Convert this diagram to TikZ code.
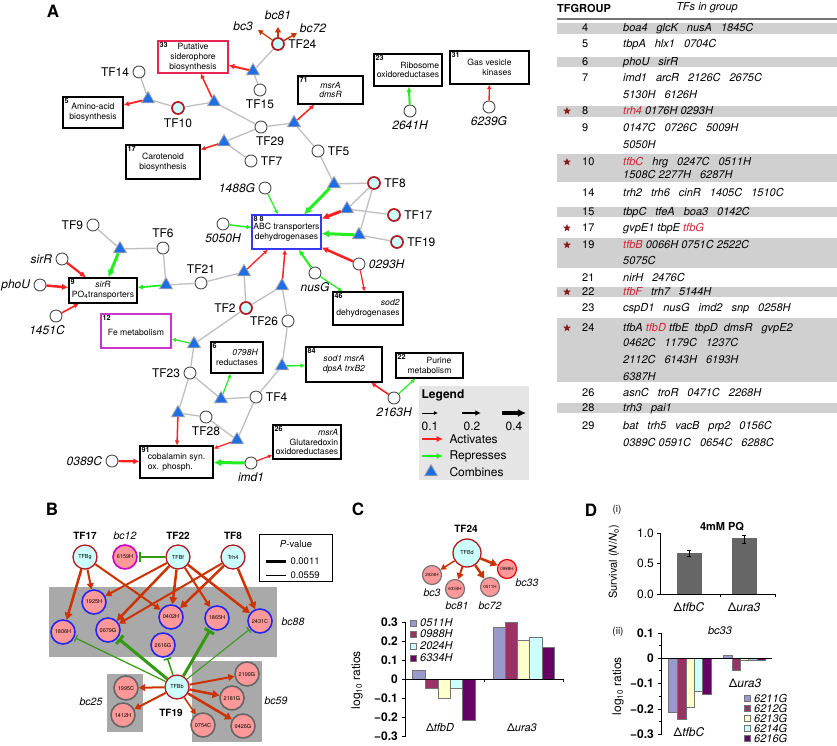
\documentclass[tikz,border=0pt]{standalone}
\usepackage{fontspec}
\setmainfont{TeX Gyre Heros}
\usetikzlibrary{shapes.geometric,arrows.meta}

\definecolor{actred}{HTML}{FF2020}
\definecolor{repgreen}{HTML}{22EE22}
\definecolor{combblue}{HTML}{1E6FE6}
\definecolor{ringred}{HTML}{B3191E}
\definecolor{tfcyan}{HTML}{CCFFFF}
\definecolor{sidero}{HTML}{E8264F}
\definecolor{femag}{HTML}{CC33CC}
\definecolor{abcblue}{HTML}{3838F0}
\definecolor{edgeor}{HTML}{CC3300}
\definecolor{inhgreen}{HTML}{339911}
\definecolor{genepink}{HTML}{FF9999}
\definecolor{geneblue}{HTML}{2626F2}
\definecolor{bcmag}{HTML}{CC00CC}
\definecolor{bcgray}{HTML}{A9A9A9}
\definecolor{leggray}{HTML}{E5E5E5}
\definecolor{bandgray}{HTML}{D0D0D0}
\definecolor{starred}{HTML}{8C1C1C}
\definecolor{tfbred}{HTML}{CC2233}
\definecolor{barlav}{HTML}{9999CC}
\definecolor{barmar}{HTML}{993366}
\definecolor{baryel}{HTML}{FFFFCC}
\definecolor{barcya}{HTML}{CCFFFF}
\definecolor{barpur}{HTML}{660066}
\definecolor{survgray}{HTML}{666666}

\newcommand{\fsz}[1]{\fontsize{#1}{#1}\selectfont}
\newcommand{\gp}{\hspace{9pt}}

\tikzset{
  tf/.style={circle, draw=black!70, fill=white, line width=0.9pt, minimum size=12pt, inner sep=0pt},
  tfr/.style={tf, draw=ringred, fill=tfcyan, line width=1.7pt},
  comb/.style={regular polygon, regular polygon sides=3, draw=black!35, fill=combblue, line width=0.8pt, minimum size=15pt, inner sep=0pt},
  modbox/.style={draw, line width=1.2pt, fill=white, inner sep=1pt, align=center, font=\fontsize{8.6}{9.8}\selectfont},
  num/.style={anchor=north west, inner sep=2pt, font=\fsz{7.2}\bfseries},
  link/.style={draw=black!25, line width=1.3pt},
  act/.style={draw=actred, line width=#1, -{Latex[length=2.5pt 1.6, width=2.5pt 1.6]}},
  rep/.style={draw=repgreen, line width=#1, -{Latex[length=2.5pt 1.6, width=2.5pt 1.6]}},
  lbl/.style={font=\fsz{12}},
  gen/.style={font=\fsz{12}\itshape},
  panel/.style={font=\fsz{17}\bfseries, inner sep=0pt},
  bt/.style={circle, draw=ringred, fill=tfcyan, line width=1.3pt, minimum size=24pt, inner sep=0pt, font=\fsz{5.5}},
  bgene/.style={circle, fill=genepink, line width=1.6pt, minimum size=24pt, inner sep=0pt, font=\fsz{5.5}},
  cgene/.style={circle, fill=genepink, line width=1.2pt, minimum size=19pt, inner sep=0pt, font=\fsz{4.5}},
  bact/.style={draw=edgeor, line width=#1, -{Triangle[length=3pt 1.6, width=3pt 1.9]}},
  binh/.style={draw=inhgreen, line width=#1, shorten >=1pt, -{Bar[width=5pt 2]}},
  blab/.style={font=\fsz{10}\bfseries},
  bclab/.style={font=\fsz{10.5}\itshape},
  ticklab/.style={font=\fsz{12}\bfseries, anchor=east, inner sep=1pt},
  barbox/.style={draw=black!55, line width=0.5pt},
  tg/.style={anchor=west, inner sep=0pt, font=\fsz{11}\itshape, text height=8pt, text depth=2pt},
  tn/.style={tg, font=\fsz{11}},
  starm/.style={star, star points=5, star point ratio=2.3, fill=starred, minimum size=8pt, inner sep=0pt},
}

\begin{document}
\begin{tikzpicture}[x=1pt, y=-1pt]
  %%%%% START %%%%%
  \useasboundingbox (0,0) rectangle (837,745);
  \fill[white] (0,0) rectangle (837,745);

  %%%%% A: network %%%%%
  \node[panel] (pA) at (53,11) {A};

  % modules
  \node[modbox, minimum width=60pt, minimum height=31pt, label={[num]north west:5}] (m5) at (93,112.5) {Amino-acid\\biosynthesis};
  \node[modbox, draw=sidero, minimum width=70pt, minimum height=32pt, label={[num]north west:33}] (m33) at (193,57) {Putative\\siderophore\\biosynthesis};
  \node[modbox, minimum width=74pt, minimum height=34pt, label={[num]north west:17}] (m17) at (163,162) {Carotenoid\\biosynthesis};
  \node[modbox, minimum width=65pt, minimum height=28pt, label={[num]north west:71}] (m71) at (330.5,90) {\textit{msrA}\\\textit{dmsR}};
  \node[modbox, align=right, minimum width=68pt, minimum height=32pt, label={[num]north west:23}] (m23) at (408,70) {Ribosome\\oxidoreductases};
  \node[modbox, align=right, minimum width=79pt, minimum height=33pt, label={[num]north west:31}] (m31) at (489.5,67.5) {Gas vesicle\\kinases};
  \node[modbox, draw=abcblue, minimum width=69pt, minimum height=34pt, label={[num]north west:8 8}] (m88) at (286.5,232) {ABC transporters\\dehydrogenases};
  \node[modbox, minimum width=68pt, minimum height=25pt, label={[num]north west:9}] (m9) at (103,290.5) {\textit{sirR}\\PO\textsubscript{4}transporters};
  \node[modbox, draw=femag, minimum width=70pt, minimum height=34pt, label={[num]north west:12}] (m12) at (136,331) {\mbox{}\\Fe metabolism};
  \node[modbox, align=right, minimum width=52pt, minimum height=31pt, label={[num]north west:6}] (m6) at (237,357.5) {\textit{0798H}\\reductases};
  \node[modbox, align=right, minimum width=70pt, minimum height=33pt, label={[num]north west:46}] (m46) at (368,308.5) {\textit{sod2}\\dehydrogenases};
  \node[modbox, minimum width=76pt, minimum height=35pt, label={[num]north west:84}] (m84) at (344,364.5) {\textit{sod1 msrA}\\\textit{dpsA trxB2}};
  \node[modbox, align=right, minimum width=67pt, minimum height=25pt, label={[num]north west:22}] (m22) at (429.5,365.5) {Purine\\metabolism};
  \node[modbox, align=right, minimum width=68pt, minimum height=34pt, label={[num]north west:26}] (m26) at (307,442) {\textit{msrA}\\Glutaredoxin\\oxidoreductases};
  \node[modbox, align=left, minimum width=73pt, minimum height=32pt, label={[num]north west:91}] (m91) at (176.5,462) {\mbox{}\\[-3pt]cobalamin syn.\\ox. phosph.};

  % transcription factors
  \node[tf, label={[lbl]left:TF14}] (tf14) at (139,72) {};
  \node[tfr, label={[lbl]below:TF10}] (tf10) at (178,108) {};
  \node[tf, label={[lbl]below:TF15}] (tf15) at (260,90) {};
  \node[tfr, label={[lbl]right:TF24}] (tf24) at (278,44) {};
  \node[tf, label={[lbl, xshift=9pt]below:TF29}] (tf29) at (261,127) {};
  \node[tf, label={[lbl]right:TF7}] (tf7) at (251,161) {};
  \node[tf, label={[lbl]right:TF5}] (tf5) at (318,151) {};
  \node[tfr, label={[lbl]right:TF8}] (tf8) at (374,183) {};
  \node[tfr, label={[lbl]right:TF17}] (tf17) at (394,215) {};
  \node[tfr, label={[lbl]right:TF19}] (tf19) at (397,242) {};
  \node[tf, label={[lbl]left:TF9}] (tf9) at (93,225) {};
  \node[tf, label={[lbl]above:TF6}] (tf6) at (163,248) {};
  \node[tf, label={[lbl]above:TF21}] (tf21) at (201,283) {};
  \node[tfr, label={[lbl]left:TF2}] (tf2) at (246,308) {};
  \node[tf, label={[lbl]left:TF26}] (tf26) at (288,321) {};
  \node[tf, label={[lbl]left:TF23}] (tf23) at (190,373) {};
  \node[tf, label={[lbl]right:TF4}] (tf4) at (256,397) {};
  \node[tf, label={[lbl]below:TF28}] (tf28) at (206,417) {};

  % single genes
  \node[tf, label={[gen]left:1488G}] (g1488) at (265,188) {};
  \node[tf, label={[gen]below:5050H}] (g5050) at (223,224) {};
  \node[tf, label={[gen]left:sirR}] (gsirR) at (62,259) {};
  \node[tf, label={[gen]left:phoU}] (gphoU) at (40,285) {};
  \node[tf, label={[gen, xshift=-9pt]below:1451C}] (g1451) at (56,316) {};
  \node[tf, label={[gen]below:nusG}] (gnusG) at (315,273) {};
  \node[tf, label={[gen]right:0293H}] (g0293) at (359,264) {};
  \node[tf, label={[gen]below:2641H}] (g2641) at (410,111) {};
  \node[tf, label={[gen]below:6239G}] (g6239) at (489,107) {};
  \node[tf, label={[gen]below:2163H}] (g2163) at (394,398) {};
  \node[tf, label={[gen]left:0389C}] (g0389) at (112,461) {};
  \node[tf, label={[gen]below:imd1}] (gimd1) at (251,463) {};

  % combinations
  \node[comb] (t1) at (148,99) {};
  \node[comb] (t2) at (214,102) {};
  \node[comb] (t3) at (253,71) {};
  \node[comb] (t4) at (224,142) {};
  \node[comb] (t5) at (294,123) {};
  \node[comb] (t6) at (334,184) {};
  \node[comb] (t7) at (347,209) {};
  \node[comb] (t8) at (359,235) {};
  \node[comb] (t9) at (244,272) {};
  \node[comb] (t10) at (282,286) {};
  \node[comb] (t11) at (194,344) {};
  \node[comb] (t12) at (221,399) {};
  \node[comb] (t13) at (282,366) {};
  \node[comb] (t14) at (178,413) {};
  \node[comb] (t15) at (237,440) {};
  \node[comb] (t16) at (120,249) {};
  \node[comb] (t17) at (166,285) {};

  % gray links
  \draw[link] (tf14) -- (t1) -- (tf10) -- (t2) -- (tf29) -- (t4) -- (tf7);
  \draw[link] (tf24) -- (t3) -- (tf15);
  \draw[link] (tf29) -- (t5) -- (tf5) -- (t6) -- (tf8) -- (t7) -- (tf17);
  \draw[link] (tf8) -- (t8) -- (tf19);
  \draw[link] (tf9) -- (t16) -- (tf6) -- (t17) -- (tf21) -- (t9) -- (tf2) -- (t10) -- (tf26) -- (t13) -- (tf4);
  \draw[link] (tf2) -- (t11) -- (tf23) -- (t12) -- (tf4) -- (t15) -- (tf28) -- (t14) -- (tf23);

  % activation
  \draw[act=1.8pt] (t1) -- (m5);
  \draw[act=1.5pt] (t2) -- (m33);
  \draw[act=2pt] (t3) -- (m33);
  \draw[act=1.5pt] (t4) -- (m17);
  \draw[act=1.5pt] (t5) -- (m71);
  \draw[act=3pt] (t7) -- (m88);
  \draw[act=1.3pt] (t9) -- (m88);
  \draw[act=1.5pt] (t10) -- (m88);
  \draw[act=2.5pt] (g0293) -- (m88);
  \draw[act=1.2pt] (g0293) -- (m46);
  \draw[act=2.2pt] (gsirR) -- (m9);
  \draw[act=2.5pt] (gphoU) -- (m9);
  \draw[act=1.6pt] (g1451) -- (m9);
  \draw[act=1.5pt] (t14) -- (m91);
  \draw[act=1.2pt] (t15) -- (m91);
  \draw[act=2.2pt] (g0389) -- (m91);
  \draw[act=1.2pt] (gimd1) -- (m26);
  \draw[act=1.6pt] (g2163) -- (m84);
  \draw[act=1.3pt] (g6239) -- (m31);

  % repression
  \draw[rep=1.2pt] (g1488) -- (m88);
  \draw[rep=1.5pt] (g5050) -- (m88);
  \draw[rep=3pt] (t6) -- (m88);
  \draw[rep=3pt] (t8) -- (m88);
  \draw[rep=2pt] (gnusG) -- (m88);
  \draw[rep=1.2pt] (gnusG) -- (m46);
  \draw[rep=3pt] (t16) -- (m9);
  \draw[rep=1.8pt] (t17) -- (m9);
  \draw[rep=1.2pt] (t11) -- (m12);
  \draw[rep=1.2pt] (t12) -- (m6);
  \draw[rep=1.5pt] (t13) -- (m84);
  \draw[rep=3pt] (gimd1) -- (m91);
  \draw[rep=1.2pt] (g2163) -- (m22);
  \draw[rep=2pt] (g2641) -- (m23);

  % TF24 biclusters
  \coordinate (bc3e) at (258,30);
  \coordinate (bc81e) at (278,27);
  \coordinate (bc72e) at (297,33);
  \draw[bact=1.2pt] (tf24) -- (bc3e);
  \draw[bact=1.5pt] (tf24) -- (bc81e);
  \draw[bact=1.5pt] (tf24) -- (bc72e);
  \node[gen] (lbc3) at (243,26) {bc3};
  \node[gen] (lbc81) at (278,15) {bc81};
  \node[gen] (lbc72) at (313,28) {bc72};

  % legend
  \node[fill=leggray, minimum width=110pt, minimum height=94pt, inner sep=0pt] (leg) at (474,433) {};
  \node[font=\fsz{12}\bfseries] (legt) at (443,395) {Legend};
  \draw[line width=1pt, -{Latex[length=2.5pt 1.6, width=2.5pt 1.6]}] (422,413) -- (438,413);
  \draw[line width=2pt, -{Latex[length=2.5pt 1.6, width=2.5pt 1.6]}] (462,413) -- (481,413);
  \draw[line width=3.5pt, -{Latex[length=2.5pt 1.6, width=2.5pt 1.6]}] (502,413) -- (526,413);
  \node[lbl] (lw1) at (430,426) {0.1};
  \node[lbl] (lw2) at (472,426) {0.2};
  \node[lbl] (lw4) at (514,426) {0.4};
  \draw[act=2.5pt] (422,439) -- (443,439);
  \node[lbl, anchor=west] (lact) at (446,439) {Activates};
  \draw[rep=2.5pt] (422,456) -- (443,456);
  \node[lbl, anchor=west] (lrep) at (446,456) {Represses};
  \node[comb] (lcomb) at (431,472) {};
  \node[lbl, anchor=west] (lcom) at (446,472) {Combines};

  %%%%% table %%%%%
  \node[font=\fsz{11}\bfseries, anchor=west, inner sep=0pt] (hg) at (557,8) {TFGROUP};
  \node[font=\fsz{11}\itshape, inner sep=0pt] (ht) at (707,8) {TFs in group};
  \draw[black!55, line width=1.2pt] (557,19) -- (837,19);

  \fill[bandgray] (557,23) rectangle (837,34);
  \fill[bandgray] (557,57) rectangle (837,67);
  \fill[bandgray] (557,106) rectangle (837,117);
  \fill[bandgray] (557,154) rectangle (837,182);
  \fill[bandgray] (557,207) rectangle (837,217);
  \fill[bandgray] (557,238) rectangle (837,268);
  \fill[bandgray] (557,287) rectangle (837,297);
  \fill[bandgray] (557,318) rectangle (837,382);
  \fill[bandgray] (557,403) rectangle (837,413);

  \node[starm] (s8) at (567,111) {};
  \node[starm] (s10) at (567,162) {};
  \node[starm] (s17) at (567,228) {};
  \node[starm] (s19) at (567,245) {};
  \node[starm] (s22) at (567,292) {};
  \node[starm] (s24) at (567,328) {};

  \node[tn] (n4) at (582,28.5) {4};
  \node[tg] (l4) at (623,28.5) {boa4\gp glcK\gp nusA\gp 1845C};
  \node[tn] (n5) at (582,44) {5};
  \node[tg] (l5) at (623,44) {tbpA\gp hlx1\gp 0704C};
  \node[tn] (n6) at (582,62) {6};
  \node[tg] (l6) at (623,62) {phoU\gp sirR};
  \node[tn] (n7) at (582,78) {7};
  \node[tg] (l7a) at (623,78) {imd1\gp arcR\gp 2126C\gp 2675C};
  \node[tg] (l7b) at (623,95) {5130H\gp 6126H};
  \node[tn] (n8) at (582,111) {8};
  \node[tg] (l8) at (623,111) {\textcolor{tfbred}{trh4} 0176H 0293H};
  \node[tn] (n9) at (582,128) {9};
  \node[tg] (l9a) at (623,128) {0147C\gp 0726C\gp 5009H};
  \node[tg] (l9b) at (623,145) {5050H};
  \node[tn] (n10) at (582,162) {10};
  \node[tg] (l10a) at (623,162) {\textcolor{tfbred}{tfbC}\gp hrg\gp 0247C\gp 0511H};
  \node[tg] (l10b) at (623,175) {1508C 2277H\gp 6287H};
  \node[tn] (n14) at (582,193) {14};
  \node[tg] (l14) at (623,193) {trh2\gp trh6\gp cinR\gp 1405C\gp 1510C};
  \node[tn] (n15) at (582,212) {15};
  \node[tg] (l15) at (623,212) {tbpC\gp tfeA\gp boa3\gp 0142C};
  \node[tn] (n17) at (582,228) {17};
  \node[tg] (l17) at (623,228) {gvpE1 tbpE \textcolor{tfbred}{tfbG}};
  \node[tn] (n19) at (582,245) {19};
  \node[tg] (l19a) at (623,245) {\textcolor{tfbred}{tfbB} 0066H 0751C 2522C};
  \node[tg] (l19b) at (623,261) {5075C};
  \node[tn] (n21) at (582,278) {21};
  \node[tg] (l21) at (623,278) {nirH\gp 2476C};
  \node[tn] (n22) at (582,292) {22};
  \node[tg] (l22) at (623,292) {\textcolor{tfbred}{tfbF}\gp trh7\gp 5144H};
  \node[tn] (n23) at (582,308) {23};
  \node[tg] (l23) at (623,308) {cspD1\gp nusG\gp imd2\gp snp\gp 0258H};
  \node[tn] (n24) at (582,328) {24};
  \node[tg] (l24a) at (623,328) {tfbA \textcolor{tfbred}{tfbD} tfbE\hspace{6pt}tbpD\hspace{6pt}dmsR\gp gvpE2};
  \node[tg] (l24b) at (623,343) {0462C\gp 1179C\gp 1237C};
  \node[tg] (l24c) at (623,360) {2112C\gp 6143H\gp 6193H};
  \node[tg] (l24d) at (623,377) {6387H};
  \node[tn] (n26) at (582,393) {26};
  \node[tg] (l26) at (623,393) {asnC\gp troR\gp 0471C\gp 2268H};
  \node[tn] (n28) at (582,408) {28};
  \node[tg] (l28) at (623,408) {trh3\gp pai1};
  \node[tn] (n29) at (582,426) {29};
  \node[tg] (l29a) at (623,426) {bat\gp trh5\gp vacB\gp prp2\gp 0156C};
  \node[tg] (l29b) at (623,443) {0389C 0591C\gp 0654C\gp 6288C};

  %%%%% B %%%%%
  \node[panel] (pB) at (52,509) {B};
  \fill[bcgray] (49,587) rectangle (277,657);
  \fill[bcgray] (107,674) rectangle (143,732);
  \fill[bcgray] (192,661) rectangle (262,742);
  \node[bclab] (lbc88) at (293,622) {bc88};
  \node[bclab] (lbc25) at (91,702) {bc25};
  \node[bclab] (lbc59) at (276,701) {bc59};

  \node[blab] (l17) at (85,536) {TF17};
  \node[bclab] (l12) at (125,536) {bc12};
  \node[blab] (l22) at (178,536) {TF22};
  \node[blab] (l8) at (233,536) {TF8};
  \node[blab] (l19) at (171,713) {TF19};

  \node[bt] (b17) at (85,557) {TFBg};
  \node[bgene, draw=bcmag] (b12) at (125,557) {6159H};
  \node[bt] (b22) at (178,557) {TFBf};
  \node[bt] (b8) at (233,557) {Trh4};
  \node[bgene, draw=geneblue] (g1925) at (94,602) {1925H};
  \node[bgene, draw=geneblue] (g1806) at (63,632) {1806H};
  \node[bgene, draw=geneblue] (g0679) at (108,630) {0679G};
  \node[bgene, draw=geneblue] (g0402) at (171,617) {0402H};
  \node[bgene, draw=geneblue] (g1865) at (217,618) {1865H};
  \node[bgene, draw=geneblue] (g2431) at (260,621) {2431C};
  \node[bgene, draw=geneblue] (g2616) at (163,645) {2616G};
  \node[bt] (b19) at (177,687) {TFBb};
  \node[bgene, draw=black!60] (g1995) at (126,688) {1995C};
  \node[bgene, draw=black!60] (g1412) at (123,715) {1412H};
  \node[bgene, draw=black!60] (g2190) at (247,674) {2190G};
  \node[bgene, draw=black!60] (g2181) at (232,698) {2181G};
  \node[bgene, draw=black!60] (g0754) at (203,725) {0754C};
  \node[bgene, draw=black!60] (g0426) at (243,726) {0426G};

  \draw[bact=2.5pt] (b17) -- (g1806);
  \draw[bact=2pt] (b17) -- (g1925);
  \draw[bact=2pt] (b17) -- (g0402);
  \draw[bact=2pt] (b22) -- (g1925);
  \draw[bact=2.5pt] (b22) -- (g0679);
  \draw[bact=2.5pt] (b22) -- (g0402);
  \draw[bact=2pt] (b22) -- (g1865);
  \draw[bact=2.5pt] (b22) -- (g2431);
  \draw[bact=2pt] (b8) -- (g0679);
  \draw[bact=2.5pt] (b8) -- (g0402);
  \draw[bact=2.5pt] (b8) -- (g2431);
  \draw[binh=2.5pt] (b22) -- (b12);
  \draw[binh=1.2pt] (b19) -- (g1806);
  \draw[binh=3pt] (b19) -- (g0679);
  \draw[binh=1.5pt] (b19) -- (g2616);
  \draw[binh=3pt] (b19) -- (g1865);
  \draw[binh=1pt] (b19) -- (g2431);
  \draw[bact=2pt] (b19) -- (g1995);
  \draw[bact=2pt] (b19) -- (g1412);
  \draw[bact=2pt] (b19) -- (g2190);
  \draw[bact=2.5pt] (b19) -- (g2181);
  \draw[bact=1.5pt] (b19) -- (g0754);
  \draw[bact=2.5pt] (b19) -- (g0426);

  % P-value key
  \node[draw, line width=1pt, minimum width=73pt, minimum height=47pt, inner sep=0pt] (pv) at (295.5,557.5) {};
  \node[font=\fsz{9.5}] (pvt) at (296,544) {\textit{P}-value};
  \draw[line width=3pt] (266,561) -- (286,561);
  \node[font=\fsz{9.5}, anchor=west] (pv1) at (287,561) {0.0011};
  \draw[line width=0.8pt] (266,575) -- (286,575);
  \node[font=\fsz{9.5}, anchor=west] (pv2) at (287,575) {0.0559};

  %%%%% C %%%%%
  \node[panel] (pC) at (358,509) {C};
  \node[blab] (l24) at (466,529) {TF24};
  \node[bt, minimum size=28pt] (c24) at (467,553) {TFBd};
  \node[cgene, draw=black!55] (c2024) at (432,575) {2024H};
  \node[cgene, draw=black!55] (c6334) at (455,589) {6334H};
  \node[cgene, draw=black!55] (c0511) at (490,587) {0511H};
  \node[cgene, draw=red!90!black] (c0988) at (507,569) {0988H};
  \draw[bact=1.5pt] (c24) -- (c2024);
  \draw[bact=2pt] (c24) -- (c6334);
  \draw[bact=2.5pt] (c24) -- (c0511);
  \draw[bact=2.5pt] (c24) -- (c0988);
  \node[bclab] (cbc3) at (432,593) {bc3};
  \node[bclab] (cbc81) at (457,606) {bc81};
  \node[bclab] (cbc72) at (490,606) {bc72};
  \node[bclab] (cbc33) at (527,583) {bc33};

  % bars C
  \filldraw[barbox, fill=barlav] (412,679) rectangle (425,670.5);
  \filldraw[barbox, fill=barmar] (425,679) rectangle (438,688.5);
  \filldraw[barbox, fill=baryel] (438,679) rectangle (450,698);
  \filldraw[barbox, fill=barcya] (450,679) rectangle (462,688.5);
  \filldraw[barbox, fill=barpur] (462,679) rectangle (475,720);
  \filldraw[barbox, fill=barlav] (493,679) rectangle (505,627.7);
  \filldraw[barbox, fill=barmar] (505,679) rectangle (517,622);
  \filldraw[barbox, fill=baryel] (517,679) rectangle (529,640);
  \filldraw[barbox, fill=barcya] (529,679) rectangle (542,637);
  \filldraw[barbox, fill=barpur] (542,679) rectangle (554,647.6);
  \draw[line width=0.8pt] (405,622) -- (405,737);
  \draw[line width=0.8pt] (405,679) -- (563,679);
  \draw[line width=0.8pt] (402,622) -- (405,622) (402,641) -- (405,641) (402,660) -- (405,660)
    (402,679) -- (405,679) (402,698) -- (405,698) (402,717) -- (405,717) (402,736) -- (405,736)
    (484,679) -- (484,682) (563,679) -- (563,682);
  \node[ticklab] (cy3) at (399,622) {0.3};
  \node[ticklab] (cy2) at (399,641) {0.2};
  \node[ticklab] (cy1) at (399,660) {0.1};
  \node[ticklab] (cy0) at (399,679) {0};
  \node[ticklab] (cym1) at (399,698) {−0.1};
  \node[ticklab] (cym2) at (399,717) {−0.2};
  \node[ticklab] (cym3) at (399,736) {−0.3};
  \node[rotate=90, font=\fsz{12}] (cylab) at (357,680) {log\textsubscript{10} ratios};
  \node[font=\fsz{11}] (cx1) at (440,728) {Δ\textit{tfbD}};
  \node[font=\fsz{11}] (cx2) at (522,728) {Δ\textit{ura3}};
  \filldraw[barbox, fill=barlav] (410,620) rectangle (416,626);
  \filldraw[barbox, fill=barmar] (410,631) rectangle (416,637);
  \filldraw[barbox, fill=barcya] (410,643) rectangle (416,649);
  \filldraw[barbox, fill=barpur] (410,655) rectangle (416,661);
  \node[font=\fsz{11}\itshape, anchor=west, inner sep=1pt] (ck1) at (419,623) {0511H};
  \node[font=\fsz{11}\itshape, anchor=west, inner sep=1pt] (ck2) at (419,634) {0988H};
  \node[font=\fsz{11}\itshape, anchor=west, inner sep=1pt] (ck3) at (419,646) {2024H};
  \node[font=\fsz{11}\itshape, anchor=west, inner sep=1pt] (ck4) at (419,658) {6334H};

  %%%%% D %%%%%
  \node[panel] (pD) at (591,510) {D};
  \node[font=\fsz{10}] (di) at (617,510) {(i)};
  \node[font=\fsz{11}\bfseries] (dtitle) at (722,527) {4mM PQ};
  \filldraw[fill=survgray, draw=survgray] (677,594) rectangle (701,553);
  \filldraw[fill=survgray, draw=survgray] (732,594) rectangle (756,538.5);
  \draw[line width=0.6pt] (689,550) -- (689,556) (687,550) -- (691,550) (687,556) -- (691,556);
  \draw[line width=0.6pt] (744,535) -- (744,543) (742,535) -- (746,535) (742,543) -- (746,543);
  \draw[line width=0.8pt] (660,533) -- (660,594) -- (775,594);
  \draw[line width=0.8pt] (657,533) -- (660,533) (657,563.5) -- (660,563.5) (657,594) -- (660,594)
    (720,594) -- (720,597) (775,594) -- (775,597);
  \node[font=\fsz{12}, anchor=east, inner sep=1pt] (dy10) at (655,533) {1.0};
  \node[font=\fsz{12}, anchor=east, inner sep=1pt] (dy05) at (655,563.5) {0.5};
  \node[font=\fsz{12}, anchor=east, inner sep=1pt] (dy00) at (655,594) {0.0};
  \node[font=\fsz{12}] (dx1) at (689,607) {Δ\textit{tfbC}};
  \node[font=\fsz{12}] (dx2) at (744,607) {Δ\textit{ura3}};
  \node[rotate=90, font=\fsz{11}] (dylab) at (614,562) {Survival (\textit{N}/\textit{N}\textsubscript{o})};

  \node[font=\fsz{10}] (dii) at (618,632) {(ii)};
  \node[font=\fsz{11}\itshape] (dbc) at (720,631) {bc33};
  \filldraw[barbox, fill=barlav] (668,658) rectangle (677,712.4);
  \filldraw[barbox, fill=barmar] (677,658) rectangle (686,719);
  \filldraw[barbox, fill=baryel] (686,658) rectangle (694,707);
  \filldraw[barbox, fill=barcya] (694,658) rectangle (702,691);
  \filldraw[barbox, fill=barpur] (702,658) rectangle (711,694);
  \filldraw[barbox, fill=barlav] (723,658) rectangle (732,655.5);
  \filldraw[barbox, fill=barmar] (732,658) rectangle (740,670);
  \filldraw[barbox, fill=baryel] (740,658) rectangle (748,660);
  \filldraw[barbox, fill=barcya!60!gray] (748,658) rectangle (757,659.8);
  \filldraw[barbox, fill=barpur] (757,658) rectangle (765,659.8);
  \draw[line width=0.8pt] (661,633) -- (661,735);
  \draw[line width=0.8pt] (661,658) -- (772,658);
  \draw[line width=0.8pt] (658,633) -- (661,633) (658,658) -- (661,658) (658,683) -- (661,683)
    (658,709) -- (661,709) (658,734) -- (661,734)
    (659,645.5) -- (661,645.5) (659,670.5) -- (661,670.5) (659,696) -- (661,696) (659,721.5) -- (661,721.5);
  \node[ticklab] (ey1) at (655,633) {0.1};
  \node[ticklab] (ey0) at (655,658) {0};
  \node[ticklab] (eym1) at (655,683) {−0.1};
  \node[ticklab] (eym2) at (655,709) {−0.2};
  \node[ticklab] (eym3) at (655,734) {−0.3};
  \node[rotate=90, font=\fsz{12}] (eylab) at (618,686) {log\textsubscript{10} ratios};
  \node[font=\fsz{12}] (ex1) at (745,683) {Δ\textit{ura3}};
  \node[font=\fsz{12}] (ex2) at (689,732) {Δ\textit{tfbC}};
  \filldraw[barbox, fill=barlav] (744,695) rectangle (750,701);
  \filldraw[barbox, fill=barmar] (744,705) rectangle (750,711);
  \filldraw[barbox, fill=baryel] (744,715) rectangle (750,721);
  \filldraw[barbox, fill=barcya] (744,725) rectangle (750,731);
  \filldraw[barbox, fill=barpur] (744,735) rectangle (750,741);
  \node[font=\fsz{11}\itshape, anchor=west, inner sep=1pt] (ek1) at (753,698) {6211G};
  \node[font=\fsz{11}\itshape, anchor=west, inner sep=1pt] (ek2) at (753,708) {6212G};
  \node[font=\fsz{11}\itshape, anchor=west, inner sep=1pt] (ek3) at (753,718) {6213G};
  \node[font=\fsz{11}\itshape, anchor=west, inner sep=1pt] (ek4) at (753,728) {6214G};
  \node[font=\fsz{11}\itshape, anchor=west, inner sep=1pt] (ek5) at (753,738) {6216G};
  %%%%% END %%%%%
\end{tikzpicture}
\end{document}
